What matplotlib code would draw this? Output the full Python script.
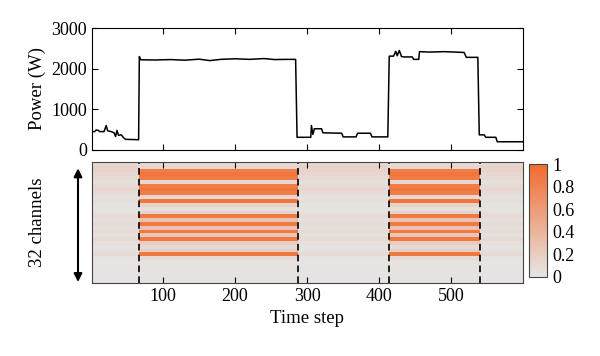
import numpy as np
import matplotlib
matplotlib.use("Agg")
import matplotlib.pyplot as plt
from matplotlib.colors import LinearSegmentedColormap

plt.rcParams['font.family'] = ['Liberation Serif', 'DejaVu Serif']
plt.rcParams['font.size'] = 13

# power trace (time step, watts)
power_t = [1, 5, 7, 10, 12, 18, 21, 23, 28, 32, 34, 36, 38, 42, 45, 48, 66,
           67, 69, 90, 110, 130, 150, 165, 180, 200, 220, 240, 255, 270, 284,
           286, 305, 306, 308, 310, 320, 322, 348, 350, 368, 370, 388, 390, 412,
           414, 420, 423, 425, 428, 431, 435, 446, 448, 455, 456, 470, 490, 505,
           518, 521, 537, 539, 546, 548, 562, 564, 600]
power_w = [450, 450, 490, 480, 450, 450, 600, 470, 450, 420, 330, 480, 360, 370, 300, 260, 250,
           2300, 2220, 2215, 2225, 2210, 2235, 2200, 2230, 2245, 2230, 2250, 2225, 2230, 2230,
           310, 310, 600, 380, 520, 520, 420, 410, 320, 320, 410, 410, 320, 320,
           2310, 2310, 2430, 2320, 2450, 2300, 2290, 2290, 2230, 2230, 2420, 2410, 2420, 2410,
           2400, 2280, 2280, 370, 370, 310, 310, 200, 200]

# appliance on periods (dashed lines)
on_start = [67, 414]
on_end = [287, 540]

# per-channel activation level while on / off (channel 1 at top)
channel_on = [0.08, 0.12, 0.85, 0.9, 0.85, 0.12, 0.85, 0.9, 0.85, 0.12, 0.9, 0.15,
              0.05, 0.15, 0.88, 0.3, 0.88, 0.3, 0.88, 0.25, 0.88, 0.2, 0.1, 0.2,
              0.88, 0.1, 0.03, 0.03, 0.03, 0.03, 0.03, 0.03]
channel_off = [0.1, 0.15, 0.15, 0.12, 0.1, 0.05, 0.1, 0.12, 0.08, 0.05, 0.06, 0.03,
               0.03, 0.05, 0.1, 0.05, 0.08, 0.05, 0.1, 0.05, 0.1, 0.05, 0.03, 0.05,
               0.1, 0.03, 0.02, 0.02, 0.02, 0.02, 0.02, 0.02]

n_steps = 600
steps = np.arange(1, n_steps + 1)
is_on = np.zeros(n_steps, dtype=bool)
for s, e in zip(on_start, on_end):
    is_on |= (steps >= s) & (steps < e)
act = np.where(is_on[None, :], np.array(channel_on)[:, None], np.array(channel_off)[:, None])

cmap = LinearSegmentedColormap.from_list('go', ['#e6e6e6', '#f26a2c'])

fig = plt.figure(figsize=(6, 3.56), dpi=100)
ax1 = fig.add_axes([0.153, 0.579, 0.719, 0.342])
ax2 = fig.add_axes([0.153, 0.205, 0.719, 0.340])
cax = fig.add_axes([0.882, 0.222, 0.030, 0.317])

ax1.plot(power_t, power_w, color='black', lw=1.1)
ax1.set_xlim(1, 600)
ax1.set_ylim(0, 3000)
ax1.set_yticks([0, 1000, 2000, 3000])
ax1.set_xticks([100, 200, 300, 400, 500])
ax1.set_xticklabels([])
ax1.set_ylabel('Power (W)', fontsize=13.5)
ax1.tick_params(direction='in', top=True, right=True, length=4, width=0.8)

im = ax2.imshow(act, aspect='auto', cmap=cmap, vmin=0, vmax=1,
                interpolation='nearest', extent=[0.5, 600.5, 32.5, 0.5])
for x in on_start + on_end:
    ax2.axvline(x, color='black', ls=(0, (4, 2.5)), lw=1.2)
ax2.set_xlim(1, 600)
ax2.set_xticks([100, 200, 300, 400, 500])
ax2.set_yticks([])
ax2.set_xlabel('Time step', fontsize=13.5)
ax2.tick_params(direction='in', top=True, length=4, width=0.8)
for sp in ax2.spines.values():
    sp.set_color('#444444')

cb = fig.colorbar(im, cax=cax, ticks=[0, 0.2, 0.4, 0.6, 0.8, 1])
cb.ax.set_yticklabels(['0', '0.2', '0.4', '0.6', '0.8', '1'])
cb.ax.tick_params(length=0, labelsize=13)
cb.outline.set_edgecolor('#444444')

fig.text(0.062, 0.375, '32 channels', rotation=90, ha='center', va='center', fontsize=13.5)
ax2.annotate('', xy=(0.13, 0.200), xytext=(0.13, 0.535), xycoords='figure fraction',
             arrowprops=dict(arrowstyle='<|-|>', color='black', lw=1.5, mutation_scale=12))

fig.savefig('out.png', dpi=100)
